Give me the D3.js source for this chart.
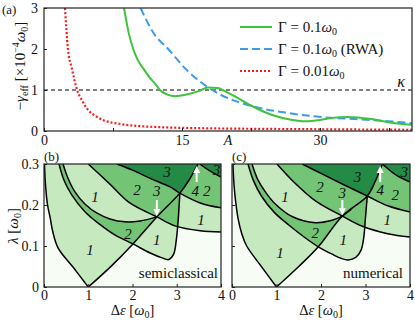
<!DOCTYPE html>
<html>
<head>
<meta charset="utf-8">
<script src="https://cdn.jsdelivr.net/npm/d3@7"></script>
<style>
  body { margin: 0; background: #fff; }
  text { font-family: "Liberation Serif", "Times New Roman", serif; fill: #111; }
</style>
</head>
<body>
<svg id="fig" width="415" height="320"></svg>
<script>
// ---------- panel (a) data ----------
const xTicksA = [0, 7.5, 15, 22.5, 30, 37.5];
const xLabelsA = ["0", "", "15", "", "30", ""];
const yTicksA = [0, 1, 2, 3];
const kappa = 1;

const greenX = [8.7, 9.2, 9.7, 10.2, 10.8, 11.5, 12.2, 12.6, 13.3, 14.2, 15.5, 16.9, 17.8, 18.9, 19.6, 20.3, 21.1, 22.6, 24.8, 27, 28.4, 30, 31.3, 33, 35.6, 37.8, 40];
const greenY = [3, 2.4, 2.0, 1.73, 1.52, 1.3, 1.12, 1.0, 0.9, 0.85, 0.89, 0.98, 1.06, 1.05, 0.98, 0.9, 0.8, 0.61, 0.39, 0.27, 0.24, 0.27, 0.32, 0.34, 0.29, 0.2, 0.15];
const blueX = [10.5, 11.9, 13.5, 15.5, 17, 17.8, 19.7, 21.1, 22.9, 26.5, 30.2, 33.8, 37.4, 40];
const blueY = [3, 2.39, 2.0, 1.49, 1.2, 1.07, 0.83, 0.71, 0.59, 0.44, 0.34, 0.29, 0.24, 0.19];
const redX = [2.28, 2.6, 3.0, 3.6, 4.2, 4.8, 5.5, 6.4, 8.3, 10.4, 13, 18, 25, 32, 40];
const redY = [3, 2.0, 1.55, 1.0, 0.72, 0.51, 0.38, 0.27, 0.17, 0.12, 0.09, 0.065, 0.05, 0.04, 0.03];

// ---------- panels (b) and (c) data : [Δε, λ] ----------
const xTicksBC = [0, 1, 2, 3, 4];
const yTicksBC = [0, 0.1, 0.2, 0.3];

// semiclassical
const bLeft = [[0.01, 0.3], [0.034, 0.249], [0.08, 0.2], [0.136, 0.171], [0.2, 0.134], [0.32, 0.095], [0.66, 0.048], [1, 0]];
const bT1 = [[1, 0], [1.52, 0.051], [2.01, 0.105], [2.55, 0.171], [3.07, 0.229], [3.28, 0.261], [3.48, 0.3]];
const bC2 = [[0.34, 0.3], [0.45, 0.261], [0.63, 0.224], [0.93, 0.183], [1.27, 0.152], [1.6, 0.127], [2.01, 0.105], [2.4, 0.083], [2.67, 0.071], [2.82, 0.067], [2.93, 0.08], [2.99, 0.115], [3.03, 0.16], [3.07, 0.229]];
const bU = [[0.43, 0.3], [0.54, 0.266], [0.7, 0.232], [0.93, 0.202], [1.2, 0.18], [1.49, 0.166], [1.83, 0.159], [2.17, 0.161], [2.55, 0.171]];
const bUExt = [];
const bArcB = [[1.0, 0.3], [1.49, 0.251], [1.94, 0.205], [2.55, 0.171], [2.96, 0.149], [3.53, 0.137], [4.0, 0.134]];
const bArcD = [[1.65, 0.3], [2.0, 0.285], [2.4, 0.265], [2.85, 0.244], [3.07, 0.229], [3.53, 0.205], [4.0, 0.193]];
const bArcE = [[3.52, 0.3], [3.75, 0.283], [4.0, 0.268]];
const bLabels = [[1.15, 0.22, "1"], [1.04, 0.09, "1"], [1.9, 0.13, "2"], [2.55, 0.115, "1"], [2.1, 0.237, "2"], [2.55, 0.235, "3"], [2.78, 0.28, "3"], [3.42, 0.235, "4"], [3.68, 0.235, "2"], [3.55, 0.165, "1"], [3.9, 0.285, "3"]];
const bArrows = [[2.55, 0.212, 0.173], [3.45, 0.256, 0.295]];

// numerical
const cLeft = [[0.02, 0.3], [0.045, 0.25], [0.08, 0.21], [0.14, 0.165], [0.22, 0.13], [0.33, 0.1], [0.66, 0.05], [1, 0]];
const cT1 = [[1, 0], [1.5, 0.05], [1.94, 0.098], [2.48, 0.173], [3.04, 0.222], [3.22, 0.258], [3.38, 0.3]];
const cC2 = [[0.36, 0.3], [0.48, 0.26], [0.66, 0.222], [0.95, 0.182], [1.29, 0.15], [1.62, 0.122], [1.94, 0.098], [2.25, 0.08], [2.45, 0.07], [2.61, 0.066], [2.78, 0.072], [2.9, 0.09], [2.96, 0.12], [3.0, 0.17], [3.04, 0.222]];
const cU = [[0.45, 0.3], [0.58, 0.262], [0.75, 0.232], [0.95, 0.205], [1.35, 0.172], [1.87, 0.157], [2.25, 0.163], [2.48, 0.173]];
const cUExt = [[2.48, 0.173], [2.68, 0.19]];
const cArcB = [[1.01, 0.3], [1.4, 0.255], [1.9, 0.208], [2.48, 0.173], [2.93, 0.148], [3.5, 0.13], [4.0, 0.122]];
const cArcD = [[1.58, 0.3], [2.0, 0.277], [2.5, 0.25], [3.04, 0.222], [3.5, 0.198], [4.0, 0.183]];
const cArcE = [[3.38, 0.3], [3.7, 0.272], [4.0, 0.256]];
const cLabels = [[1.19, 0.22, "1"], [1.08, 0.083, "1"], [1.87, 0.132, "2"], [2.5, 0.115, "1"], [1.98, 0.244, "2"], [2.48, 0.229, "3"], [2.82, 0.268, "3"], [3.33, 0.237, "4"], [3.67, 0.224, "2"], [3.49, 0.163, "1"], [3.87, 0.28, "3"]];
const cArrows = [[2.48, 0.212, 0.175], [3.33, 0.256, 0.295]];

const levelColors = ["#f7fcf5", "#c7e9c0", "#74c476", "#238b45", "#006d2c", "#00441b"];

const svg = d3.select("#fig");
const defs = svg.append("defs");

// ---------- panel (a) ----------
const xA = d3.scaleLinear().domain([0, 40]).range([44, 412]);
const yA = d3.scaleLinear().domain([0, 3]).range([131, 8]);

defs.append("clipPath").attr("id", "clipA")
  .append("rect").attr("x", 44).attr("y", 8).attr("width", 368).attr("height", 123);

const gA = svg.append("g");

gA.append("line")
  .attr("x1", xA(0)).attr("x2", xA(40)).attr("y1", yA(kappa)).attr("y2", yA(kappa))
  .attr("stroke", "#000").attr("stroke-width", 1).attr("stroke-dasharray", "4,3");

const lineA = d3.line().x(d => xA(d[0])).y(d => yA(d[1])).curve(d3.curveMonotoneX);
const curvesA = gA.append("g").attr("clip-path", "url(#clipA)");
curvesA.append("path").attr("d", lineA(d3.zip(redX, redY)))
  .attr("fill", "none").attr("stroke", "#ff1a1a").attr("stroke-width", 2.2).attr("stroke-dasharray", "2,2");
curvesA.append("path").attr("d", lineA(d3.zip(blueX, blueY)))
  .attr("fill", "none").attr("stroke", "#3a9bf0").attr("stroke-width", 2).attr("stroke-dasharray", "8,4");
curvesA.append("path").attr("d", lineA(d3.zip(greenX, greenY)))
  .attr("fill", "none").attr("stroke", "#3ec43a").attr("stroke-width", 2);

gA.append("g").attr("transform", "translate(0,131)")
  .call(d3.axisBottom(xA).tickValues(xTicksA).tickSize(-3).tickPadding(4)
    .tickFormat((d, i) => xLabelsA[i]))
  .call(g => g.select(".domain").remove());
gA.append("g").attr("transform", "translate(44,0)")
  .call(d3.axisLeft(yA).tickValues(yTicksA).tickSize(-3).tickPadding(6).tickFormat(d3.format("d")))
  .call(g => g.select(".domain").remove());

gA.append("rect").attr("x", 44).attr("y", 8).attr("width", 368).attr("height", 123)
  .attr("fill", "none").attr("stroke", "#222").attr("stroke-width", 1.2);

gA.append("text").attr("x", xA(20)).attr("y", 145).attr("text-anchor", "middle")
  .attr("font-size", 14).attr("font-style", "italic").text("A");
gA.append("text").attr("x", 401).attr("y", 87).attr("text-anchor", "middle")
  .attr("font-size", 16).attr("font-style", "italic").text("κ");

// legend
const legend = [
  { color: "#3ec43a", dash: null, w: 2, lab: "0.1", extra: "" },
  { color: "#3a9bf0", dash: "8,4", w: 2, lab: "0.1", extra: " (RWA)" },
  { color: "#ff1a1a", dash: "2,2", w: 2.2, lab: "0.01", extra: "" }
];
legend.forEach((d, i) => {
  const y = 27 + i * 22;
  gA.append("line").attr("x1", 240).attr("x2", 272).attr("y1", y).attr("y2", y)
    .attr("stroke", d.color).attr("stroke-width", d.w).attr("stroke-dasharray", d.dash);
  const t = gA.append("text").attr("x", 278).attr("y", y + 5).attr("font-size", 15);
  t.append("tspan").text("Γ = " + d.lab);
  t.append("tspan").attr("font-style", "italic").text("ω");
  t.append("tspan").attr("font-size", 10).attr("dy", 3).text("0");
  if (d.extra) t.append("tspan").attr("dy", -3).text(d.extra);
});

// y label (a)
const yl = svg.append("text").attr("transform", "translate(25,66) rotate(-90)")
  .attr("text-anchor", "middle").attr("font-size", 15);
yl.append("tspan").text("−");
yl.append("tspan").attr("font-style", "italic").text("γ");
yl.append("tspan").attr("font-size", 10).attr("dy", 3).text("eff");
yl.append("tspan").attr("dy", -3).text(" [×10");
yl.append("tspan").attr("font-size", 10).attr("dy", -6).text("−4");
yl.append("tspan").attr("font-style", "italic").attr("dy", 6).text("ω");
yl.append("tspan").attr("font-size", 10).attr("dy", 3).text("0");
yl.append("tspan").attr("dy", -3).text("]");

svg.append("text").attr("x", 2).attr("y", 14).attr("font-size", 13).text("(a)");

// ---------- panels (b), (c) ----------
const yBC = d3.scaleLinear().domain([0, 0.3]).range([287, 164]);

function segPath(x, pts) {
  return d3.line().x(d => x(d[0])).y(d => yBC(d[1])).curve(d3.curveCatmullRom.alpha(0.5))(pts);
}
function joinSegs(x, segs) {
  return segs.map((s, i) => {
    const p = segPath(x, s);
    return i === 0 ? p : "L" + p.slice(1);
  }).join("") + "Z";
}

function drawPanel(id, x0, x1, P) {
  const x = d3.scaleLinear().domain([0, 4]).range([x0, x1]);
  const g = svg.append("g");
  const w = x1 - x0, h = 123;

  defs.append("clipPath").attr("id", id + "-plot")
    .append("rect").attr("x", x0).attr("y", 164).attr("width", w).attr("height", h);

  const sets = [
    joinSegs(x, [P.left, P.t1]),
    joinSegs(x, [P.c2, P.u.slice().reverse()]),
    joinSegs(x, [P.arcB, [[4, 0.3], [4, 0.3]]]),
    joinSegs(x, [P.arcD, [[4, 0.3], [4, 0.3]]]),
    joinSegs(x, [P.arcE, [[4, 0.3], [4, 0.3]]])
  ];
  sets.forEach((d, i) => {
    defs.append("clipPath").attr("id", `${id}-s${i}`).append("path").attr("d", d);
  });

  const plot = g.append("g").attr("clip-path", `url(#${id}-plot)`);
  plot.append("rect").attr("x", x0).attr("y", 164).attr("width", w).attr("height", h)
    .attr("fill", levelColors[0]);

  // shade by how many regions overlap
  const n = sets.length;
  const subsets = [];
  for (let m = 1; m < (1 << n); m++) {
    const idx = [];
    for (let i = 0; i < n; i++) if ((m >> i) & 1) idx.push(i);
    subsets.push(idx);
  }
  subsets.sort((a, b) => a.length - b.length);
  subsets.forEach(idx => {
    let node = plot;
    idx.slice(1).forEach(i => { node = node.append("g").attr("clip-path", `url(#${id}-s${i})`); });
    node.append("path").attr("d", sets[idx[0]]).attr("fill", levelColors[idx.length]);
  });

  const lines = [P.left, P.t1, P.c2, P.u, P.uExt, P.arcB, P.arcD, P.arcE].filter(l => l.length);
  plot.selectAll("path.bd").data(lines).join("path").attr("class", "bd")
    .attr("d", d => segPath(x, d))
    .attr("fill", "none").attr("stroke", "#000").attr("stroke-width", 1.5);

  plot.selectAll("text.lab").data(P.labels).join("text").attr("class", "lab")
    .attr("x", d => x(d[0])).attr("y", d => yBC(d[1])).attr("dy", "0.35em")
    .attr("text-anchor", "middle").attr("font-size", 15).attr("font-style", "italic")
    .text(d => d[2]);

  P.arrows.forEach(a => {
    const ax = x(a[0]), ya = yBC(a[1]), yb = yBC(a[2]);
    const dir = Math.sign(yb - ya);
    plot.append("line").attr("x1", ax).attr("x2", ax).attr("y1", ya).attr("y2", yb - dir * 5)
      .attr("stroke", "#fff").attr("stroke-width", 2);
    plot.append("path")
      .attr("d", `M${ax - 3.5},${yb - dir * 7}L${ax + 3.5},${yb - dir * 7}L${ax},${yb}Z`)
      .attr("fill", "#fff");
  });

  plot.append("text").attr("x", P.textX).attr("y", 278).attr("text-anchor", "end")
    .attr("font-size", 15).text(P.text);

  g.append("g").attr("transform", "translate(0,287)")
    .call(d3.axisBottom(x).tickValues(xTicksBC).tickSize(-3).tickPadding(3).tickFormat(d3.format("d")))
    .call(s => s.select(".domain").remove());
  g.append("g").attr("transform", `translate(${x0},0)`)
    .call(d3.axisLeft(yBC).tickValues(yTicksBC).tickSize(-3).tickPadding(5)
      .tickFormat(P.yLabels ? (d => d === 0 ? "0" : d3.format(".1f")(d)) : () => ""))
    .call(s => s.select(".domain").remove());

  g.append("rect").attr("x", x0).attr("y", 164).attr("width", w).attr("height", h)
    .attr("fill", "none").attr("stroke", "#222").attr("stroke-width", 1.2);

  svg.append("text").attr("x", x0).attr("y", 161).attr("font-size", 13).text(P.tag);

  const xl = svg.append("text").attr("x", (x0 + x1) / 2).attr("y", 315)
    .attr("text-anchor", "middle").attr("font-size", 14.5);
  xl.append("tspan").text("Δ");
  xl.append("tspan").attr("font-style", "italic").text("ε");
  xl.append("tspan").text(" [");
  xl.append("tspan").attr("font-style", "italic").text("ω");
  xl.append("tspan").attr("font-size", 10).attr("dy", 3).text("0");
  xl.append("tspan").attr("dy", -3).text("]");
}

drawPanel("pb", 44, 221, {
  left: bLeft, t1: bT1, c2: bC2, u: bU, uExt: bUExt, arcB: bArcB, arcD: bArcD, arcE: bArcE,
  labels: bLabels, arrows: bArrows, text: "semiclassical", textX: 218, tag: "(b)", yLabels: true
});
drawPanel("pc", 232, 410, {
  left: cLeft, t1: cT1, c2: cC2, u: cU, uExt: cUExt, arcB: cArcB, arcD: cArcD, arcE: cArcE,
  labels: cLabels, arrows: cArrows, text: "numerical", textX: 403, tag: "(c)", yLabels: false
});

const yl2 = svg.append("text").attr("transform", "translate(18,226) rotate(-90)")
  .attr("text-anchor", "middle").attr("font-size", 15);
yl2.append("tspan").attr("font-style", "italic").text("λ");
yl2.append("tspan").text(" [");
yl2.append("tspan").attr("font-style", "italic").text("ω");
yl2.append("tspan").attr("font-size", 10).attr("dy", 3).text("0");
yl2.append("tspan").attr("dy", -3).text("]");

svg.selectAll(".tick text").attr("font-size", 14).attr("font-family", "Liberation Serif").attr("fill", "#111");
svg.selectAll(".tick line").attr("stroke", "#222");
</script>
</body>
</html>
